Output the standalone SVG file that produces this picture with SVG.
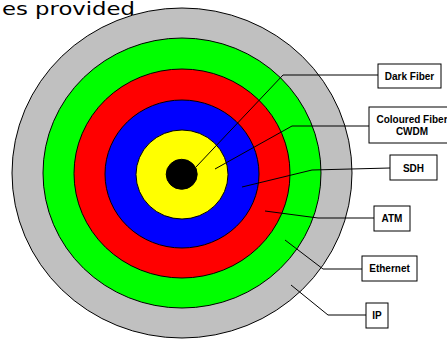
<svg xmlns="http://www.w3.org/2000/svg" width="447" height="339" viewBox="0 0 447 339">
<style>
.ring{stroke:#000;stroke-width:1}
.lbl{fill:#fff;stroke:#000;stroke-width:1}
.t{font-family:"Liberation Sans",Arial,sans-serif;font-weight:bold;font-size:10px;text-anchor:middle;fill:#000}
.c{fill:none;stroke:#000;stroke-width:1}
</style>
<rect width="447" height="339" fill="#fff"/>
<text x="2" y="15" font-family="'DejaVu Sans',sans-serif" font-size="17" textLength="133" lengthAdjust="spacingAndGlyphs" fill="#000">es provided</text>
<g id="rings">
<ellipse id="ring-ip" class="ring" cx="182" cy="173" rx="170" ry="165" fill="#c0c0c0"/>
<ellipse id="ring-ethernet" class="ring" cx="182" cy="173" rx="139" ry="135" fill="#00ff00"/>
<ellipse id="ring-atm" class="ring" cx="182" cy="173.5" rx="108" ry="104.5" fill="#ff0000"/>
<ellipse id="ring-sdh" class="ring" cx="182" cy="174" rx="77" ry="74" fill="#0000ff"/>
<ellipse id="ring-cwdm" class="ring" cx="182" cy="174.5" rx="46" ry="44.5" fill="#ffff00"/>
<ellipse id="ring-dark" class="ring" cx="181.7" cy="174.3" rx="15.5" ry="15" fill="#000"/>
</g>
<g id="connectors">
<polyline class="c" points="378,75 283,75 196,167"/>
<polyline class="c" points="369,126 292,126 215,169"/>
<polyline class="c" points="390,168 312,170 242,187"/>
<polyline class="c" points="374,218 318,218 265,211"/>
<polyline class="c" points="362,269 323,269 285,240"/>
<polyline class="c" points="366,315 328,315 291,285"/>
</g>
<g id="dark-fiber">
<rect class="lbl" x="378" y="64" width="63" height="24"/>
<text class="t" x="409.5" y="80">Dark Fiber</text>
</g>
<g id="coloured-fiber">
<rect class="lbl" x="369" y="107" width="86" height="36"/>
<text class="t" x="412" y="123">Coloured Fiber</text>
<text class="t" x="412" y="135">CWDM</text>
</g>
<g id="sdh">
<rect class="lbl" x="390" y="155" width="47" height="25"/>
<text class="t" x="413.5" y="172">SDH</text>
</g>
<g id="atm">
<rect class="lbl" x="374" y="206" width="36" height="25"/>
<text class="t" x="392" y="222">ATM</text>
</g>
<g id="ethernet">
<rect class="lbl" x="362" y="256" width="55" height="25"/>
<text class="t" x="389.5" y="272">Ethernet</text>
</g>
<g id="ip">
<rect class="lbl" x="366" y="303" width="22" height="25"/>
<text class="t" x="377" y="319">IP</text>
</g>
</svg>
